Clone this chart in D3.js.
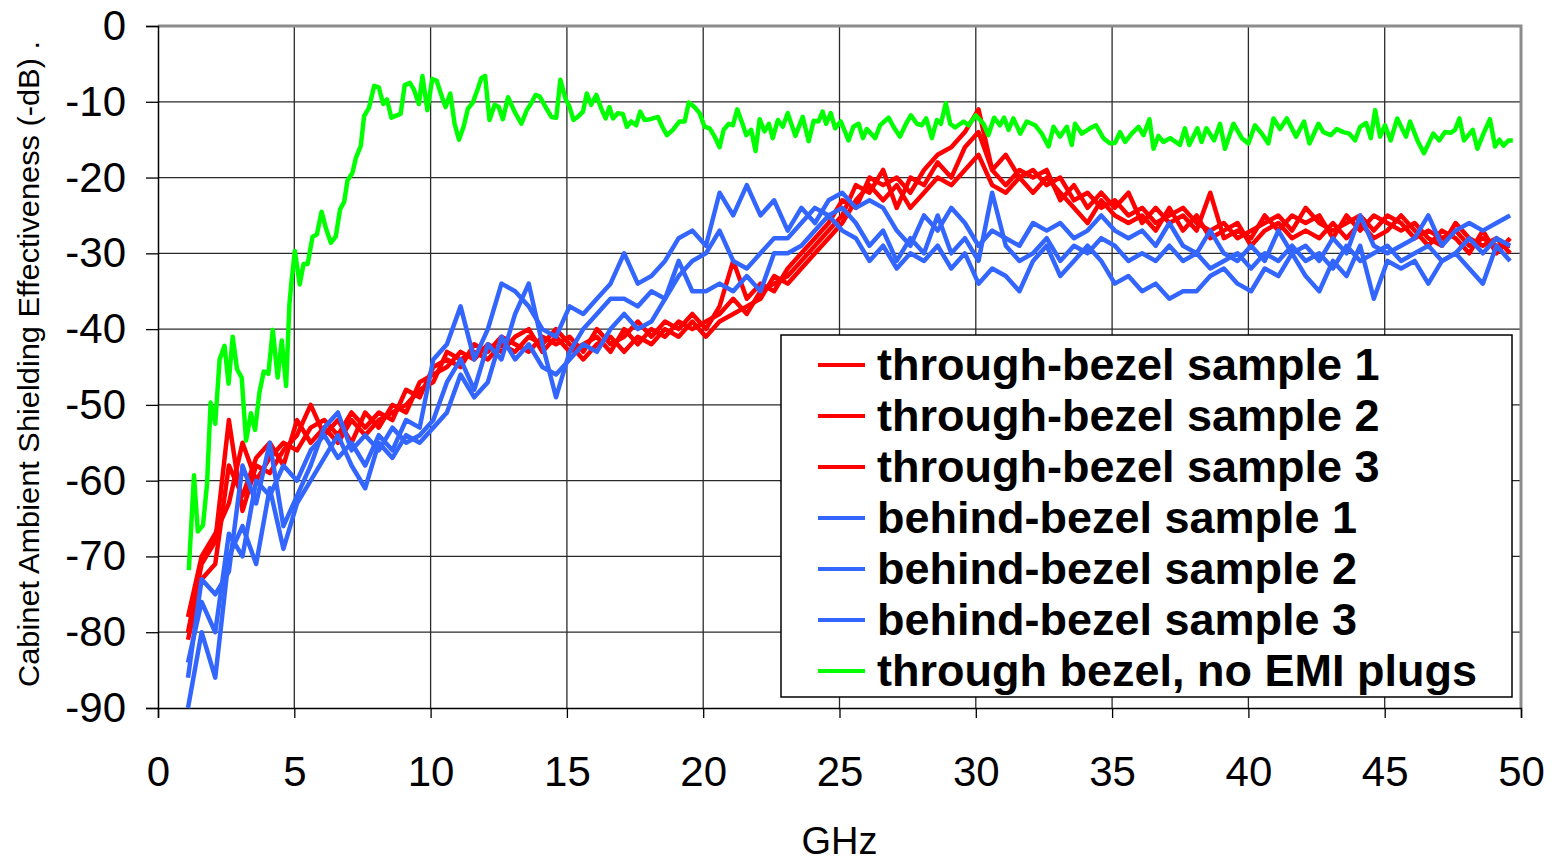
<!DOCTYPE html>
<html>
<head>
<meta charset="utf-8">
<script src="https://cdn.jsdelivr.net/npm/d3@7"></script>
<style>
  body { margin: 0; background: #fff; }
  text { font-family: "Liberation Sans", Arial, sans-serif; }
</style>
</head>
<body>
<div id="chart"></div>
<script>
// frequency grid (GHz) shared by the six sample traces
var ghz = [1.1,1.6,2.1,2.6,3.1,3.6,4.1,4.6,5.1,5.6,6.1,6.6,7.1,7.6,8.1,8.6,9.1,9.6,10.1,10.6,
  11.1,11.6,12.1,12.6,13.1,13.6,14.1,14.6,15.1,15.6,16.1,16.6,17.1,17.6,18.1,18.6,19.1,19.6,20.1,20.6,
  21.1,21.6,22.1,22.6,23.1,23.6,24.1,24.6,25.1,25.6,26.1,26.6,27.1,27.6,28.1,28.6,29.1,29.6,30.1,30.6,
  31.1,31.6,32.1,32.6,33.1,33.6,34.1,34.6,35.1,35.6,36.1,36.6,37.1,37.6,38.1,38.6,39.1,39.6,40.1,40.6,
  41.1,41.6,42.1,42.6,43.1,43.6,44.1,44.6,45.1,45.6,46.1,46.6,47.1,47.6,48.1,48.6,49.1,49.6];

var throughBezel1 = [-80,-71,-68,-52,-64,-58,-59,-56,-54,-50, -54,-52,-55,-51,-53,-50,-51,-47,-46,-45,
  -43,-44,-42,-43,-41,-40,-43,-41,-43,-42, -41,-43,-40,-42,-40,-41,-39,-40,-39,-38,
  -36,-38,-35,-34,-33,-31,-29,-27,-25,-21, -22,-19,-24,-20,-21,-18,-20,-16,-14,-19,
  -21,-19,-20,-19,-23,-21,-24,-22,-24,-22, -26,-24,-26,-25,-27,-22,-28,-27,-28,-25,
  -27,-25,-26,-25,-28,-25,-27,-25,-26,-27, -26,-28,-29,-26,-28,-29,-28,-30];
var throughBezel2 = [-78,-70,-67,-63,-55,-60,-57,-55,-56,-53, -52,-54,-51,-53,-51,-52,-48,-49,-45,-44,
  -45,-42,-43,-41,-42,-43,-41,-42,-41,-43, -40,-42,-41,-39,-41,-39,-40,-38,-40,-37,
  -31,-36,-34,-35,-32,-30,-28,-26,-23,-24, -20,-21,-20,-22,-19,-17,-16,-14,-11,-19,
  -17,-20,-19,-21,-20,-23,-22,-24,-23,-25, -24,-26,-25,-24,-26,-27,-26,-28,-27,-26,
  -25,-27,-24,-26,-27,-26,-25,-27,-25,-26, -28,-27,-28,-27,-29,-28,-29,-29];
var throughBezel3 = [-81,-73,-71,-58,-62,-57,-55,-58,-52,-55, -53,-55,-52,-54,-52,-51,-50,-48,-47,-43,
  -44,-43,-44,-42,-43,-41,-42,-40,-42,-44, -42,-41,-43,-41,-42,-40,-41,-39,-41,-39,
  -38,-37,-36,-33,-34,-32,-30,-28,-26,-23, -21,-23,-21,-24,-22,-20,-21,-19,-17,-21,
  -22,-20,-22,-20,-22,-24,-26,-23,-25,-26, -25,-27,-24,-27,-25,-28,-27,-26,-29,-27,
  -26,-28,-27,-28,-26,-28,-26,-28,-27,-25, -27,-29,-27,-28,-30,-27,-30,-28];
var behindBezel1 = [-84,-76,-80,-67,-70,-60,-62,-58,-60,-56, -54,-57,-55,-58,-54,-56,-52,-53,-44,-42,
  -37,-44,-40,-34,-35,-37,-40,-41,-37,-38, -36,-34,-30,-34,-33,-31,-28,-27,-29,-22,
  -25,-21,-25,-23,-27,-24,-26,-23,-22,-24, -23,-24,-27,-29,-25,-27,-24,-26,-29,-27,
  -28,-29,-26,-27,-26,-28,-27,-25,-27,-28, -27,-29,-26,-29,-30,-27,-30,-31,-29,-31,
  -27,-30,-29,-31,-28,-30,-25,-29,-30,-29, -28,-25,-29,-27,-26,-27,-26,-25];
var behindBezel2 = [-86,-73,-75,-72,-58,-63,-55,-66,-62,-58, -53,-51,-56,-54,-56,-53,-55,-54,-52,-47,
  -44,-48,-42,-44,-38,-34,-42,-49,-43,-40, -38,-36,-36,-37,-35,-36,-33,-31,-30,-27,
  -31,-32,-30,-28,-28,-26,-24,-25,-24,-26, -29,-27,-31,-28,-30,-25,-30,-28,-31,-22,
  -29,-31,-30,-28,-31,-29,-30,-28,-29,-31, -30,-31,-29,-31,-30,-32,-31,-30,-32,-30,
  -31,-29,-31,-30,-32,-29,-31,-30,-29,-31, -30,-29,-31,-30,-28,-30,-28,-29];
var behindBezel3 = [-90,-80,-86,-70,-66,-71,-61,-69,-63,-60, -57,-54,-58,-61,-55,-57,-54,-55,-53,-51,
  -46,-49,-47,-41,-44,-42,-45,-46,-44,-42, -43,-40,-38,-40,-39,-36,-31,-35,-35,-34,
  -35,-33,-35,-30,-30,-29,-27,-25,-27,-28, -31,-29,-32,-30,-31,-29,-32,-30,-34,-32,
  -33,-35,-31,-29,-33,-31,-29,-31,-34,-33, -35,-34,-36,-35,-35,-33,-32,-34,-35,-32,
  -33,-30,-33,-35,-31,-33,-29,-36,-31,-32, -31,-34,-31,-30,-32,-34,-29,-31];

// the no-plug trace was read at its own points
var noPlugGHz = [1.13,1.32,1.46,1.65,1.8,1.93,2.1,2.26,2.44,2.59,2.74,2.9,3.07,3.23,3.41,3.56,3.72,3.88,4.05,4.21,
  4.39,4.54,4.7,4.82,4.9,5.02,5.2,5.34,5.49,5.67,5.83,6.0,6.16,6.34,6.52,6.68,6.83,6.95,7.13,7.26,
  7.44,7.56,7.74,7.93,8.1,8.26,8.4,8.56,8.9,9.05,9.24,9.39,9.57,9.7,9.88,10.06,10.22,10.43,10.55,10.72,
  10.88,11.04,11.21,11.37,11.55,11.74,11.86,12.0,12.16,12.35,12.5,12.65,12.84,13.08,13.33,13.53,13.69,13.85,14.0,14.22,
  14.43,14.61,14.76,14.95,15.1,15.24,15.4,15.59,15.73,15.89,16.08,16.26,16.42,16.56,16.69,16.87,17.05,17.2,17.36,17.54,
  17.69,17.85,18.06,18.34,18.5,18.67,18.89,19.13,19.32,19.47,19.68,19.87,20.05,20.24,20.42,20.6,20.75,20.94,21.09,21.25,
  21.44,21.58,21.76,21.92,22.07,22.25,22.41,22.55,22.74,22.92,23.1,23.38,23.65,23.87,24.05,24.23,24.38,24.51,24.68,24.84,
  25.05,25.33,25.51,25.7,25.86,26.0,26.31,26.49,26.8,26.98,27.22,27.44,27.62,27.84,28.02,28.18,28.39,28.57,28.72,28.9,
  29.06,29.24,29.55,29.73,30.0,30.28,30.46,30.67,30.89,31.04,31.2,31.38,31.63,31.87,32.18,32.42,32.67,32.85,33.09,33.34,
  33.52,33.64,33.89,34.19,34.41,34.68,34.93,35.11,35.29,35.48,35.72,35.97,36.15,36.37,36.52,36.7,36.88,37.13,37.49,37.67,
  37.83,38.13,38.28,38.46,38.74,38.96,39.14,39.45,39.76,40.0,40.24,40.49,40.73,40.92,41.16,41.41,41.75,42.04,42.24,42.57,
  42.75,43.02,43.24,43.48,43.7,43.91,44.1,44.32,44.49,44.65,44.83,45.01,45.22,45.46,45.78,45.93,46.2,46.44,46.78,47.0,
  47.21,47.42,47.58,47.74,47.91,48.23,48.4,48.6,48.86,49.05,49.21,49.36,49.54,49.7];
var noPlugDB = [-71.8,-59.3,-66.7,-65.9,-60.4,-49.7,-52.5,-44,-42.2,-47.2,-41,-45.3,-46.4,-54.7,-51.1,-53.3,-48.4,-45.6,-45.9,-40.1,
  -46.4,-41.5,-47.5,-36.8,-33.6,-29.7,-34.1,-31.4,-31.4,-27.8,-27.5,-24.5,-26.7,-28.6,-27.8,-24.2,-23.2,-20.4,-19.4,-17.4,
  -15.8,-11.9,-10.8,-7.9,-8.1,-10.3,-9.7,-12.1,-11.6,-7.8,-7.5,-8.4,-10.3,-6.6,-11.1,-7.0,-7.2,-9.5,-10.7,-8.9,
  -12.9,-15.0,-13.3,-10.9,-10.1,-8.2,-6.9,-6.6,-12.4,-10.4,-10.7,-12.3,-9.4,-11.3,-12.9,-11.1,-10.2,-9.1,-9.3,-10.7,
  -12.0,-12.1,-7.1,-9.6,-10.7,-12.4,-12.0,-11.3,-8.9,-10.4,-9.1,-10.9,-12.2,-10.7,-12.2,-11.5,-11.6,-13.3,-12.6,-13.1,
  -11.3,-12.4,-12.3,-12.0,-13.3,-14.4,-13.7,-12.6,-12.6,-10.1,-10.7,-11.5,-13.3,-13.5,-14.6,-16.0,-13.7,-12.9,-13.1,-11.0,
  -12.9,-14.4,-13.7,-16.5,-12.3,-13.9,-12.9,-14.8,-12.4,-13.3,-11.5,-14.5,-12.0,-15.2,-12.5,-12.6,-11.3,-12.9,-11.5,-13.5,
  -12.6,-15.1,-13.3,-12.9,-14.8,-13.6,-14.8,-13.1,-12.1,-13.3,-14.6,-12.9,-11.8,-12.9,-13.1,-12.2,-14.8,-12.4,-12.9,-10.2,
  -12.9,-13.4,-12.6,-13.1,-11.8,-12.9,-14.4,-12.1,-13.1,-12.1,-13.7,-12.2,-14.2,-12.6,-13.1,-14.2,-15.9,-13.3,-14.6,-13.3,
  -15.7,-12.9,-14.2,-13.5,-13.1,-14.8,-15.5,-15.4,-14.0,-15.3,-14.2,-13.3,-14.4,-12.3,-16.2,-14.5,-15.3,-14.8,-15.7,-13.5,
  -15.7,-13.5,-15.3,-13.5,-15.1,-12.9,-16.2,-12.9,-14.8,-15.5,-13.1,-14.2,-15.5,-12.2,-13.6,-12.2,-14.6,-12.6,-15.5,-12.9,
  -14.0,-14.4,-13.6,-14.0,-14.2,-15.1,-13.3,-12.8,-14.8,-11.1,-14.6,-13.1,-15.1,-12.2,-14.6,-12.6,-15.1,-16.8,-14.2,-15.1,
  -14.0,-14.1,-13.7,-12.2,-15.1,-13.7,-16.2,-14.4,-12.3,-15.9,-15.0,-15.8,-15.1,-15.1];

var yTicks = [0, -10, -20, -30, -40, -50, -60, -70, -80, -90];
var xTicks = [0, 5, 10, 15, 20, 25, 30, 35, 40, 45, 50];

var series = [
  { name: "through-bezel sample 1", color: "#ff0000", x: ghz, y: throughBezel1 },
  { name: "through-bezel sample 2", color: "#ff0000", x: ghz, y: throughBezel2 },
  { name: "through-bezel sample 3", color: "#ff0000", x: ghz, y: throughBezel3 },
  { name: "behind-bezel sample 1", color: "#3366ff", x: ghz, y: behindBezel1 },
  { name: "behind-bezel sample 2", color: "#3366ff", x: ghz, y: behindBezel2 },
  { name: "behind-bezel sample 3", color: "#3366ff", x: ghz, y: behindBezel3 },
  { name: "through bezel, no EMI plugs", color: "#00ff00", x: noPlugGHz, y: noPlugDB }
];

var W = 1558, H = 864;
var plotL = 158, plotR = 1521, plotT = 26, plotB = 708;

var svg = d3.select("#chart").append("svg")
  .attr("width", W).attr("height", H);
svg.append("rect").attr("width", W).attr("height", H).attr("fill", "#fff");

var x = d3.scaleLinear().domain([0, 50]).range([plotL, plotR]);
var y = d3.scaleLinear().domain([-90, 0]).range([plotB, plotT]);

// grid
svg.append("g").selectAll("line").data(yTicks.filter(function (d) { return d > -90 && d < 0; }))
  .enter().append("line")
  .attr("x1", plotL).attr("x2", plotR)
  .attr("y1", function (d) { return y(d); }).attr("y2", function (d) { return y(d); })
  .attr("stroke", "#2a2a2a").attr("stroke-width", 1.3);
svg.append("g").selectAll("line").data(xTicks.filter(function (d) { return d > 0 && d < 50; }))
  .enter().append("line")
  .attr("x1", function (d) { return x(d); }).attr("x2", function (d) { return x(d); })
  .attr("y1", plotT).attr("y2", plotB)
  .attr("stroke", "#2a2a2a").attr("stroke-width", 1.3);

// top and right frame
svg.append("path")
  .attr("d", "M" + plotL + "," + plotT + "H" + plotR + "V" + plotB)
  .attr("fill", "none").attr("stroke", "#8c8c8c").attr("stroke-width", 3);

// axes
var yAxis = svg.append("g")
  .attr("transform", "translate(" + plotL + ",0)")
  .call(d3.axisLeft(y).tickValues(yTicks).tickSize(12).tickPadding(20).tickFormat(d3.format("d")));
var xAxis = svg.append("g")
  .attr("transform", "translate(0," + plotB + ")")
  .call(d3.axisBottom(x).tickValues(xTicks).tickSize(10).tickPadding(38).tickFormat(d3.format("d")));
[yAxis, xAxis].forEach(function (a) {
  a.select(".domain").attr("stroke", "#000").attr("stroke-width", 1.5);
  a.selectAll(".tick line").attr("stroke", "#000").attr("stroke-width", 1.3);
  a.selectAll(".tick text")
    .attr("fill", "#000")
    .style("font-size", "42px")
    .style("font-family", "'Liberation Sans', Arial, sans-serif");
});
yAxis.selectAll(".tick text").text(function (d) { return d === 0 ? "0" : "-" + Math.abs(d); });

// data lines
var line = d3.line()
  .x(function (d) { return x(d[0]); })
  .y(function (d) { return y(d[1]); });

svg.append("g").selectAll("path")
  .data(series)
  .enter()
  .append("path")
  .attr("d", function (s) { return line(s.x.map(function (v, i) { return [v, s.y[i]]; })); })
  .attr("fill", "none")
  .attr("stroke", function (s) { return s.color; })
  .attr("stroke-width", 4.5)
  .attr("stroke-linejoin", "round");

// axis titles
svg.append("text")
  .attr("x", x(25)).attr("y", 854)
  .attr("text-anchor", "middle")
  .style("font-size", "38px")
  .text("GHz");

svg.append("text")
  .attr("transform", "translate(39,364)rotate(-90)")
  .attr("text-anchor", "middle")
  .attr("textLength", 646)
  .attr("lengthAdjust", "spacingAndGlyphs")
  .style("font-size", "29px")
  .text("Cabinet Ambient Shielding Effectiveness (-dB) .");

// legend
var legend = svg.append("g");
legend.append("rect")
  .attr("x", 781).attr("y", 335).attr("width", 731).attr("height", 362)
  .attr("fill", "#fff").attr("stroke", "#000").attr("stroke-width", 1.5);

var rows = legend.selectAll("g.row").data(series).enter().append("g")
  .attr("class", "row")
  .attr("transform", function (d, i) { return "translate(0," + (365 + i * 51) + ")"; });
rows.append("line")
  .attr("x1", 818).attr("x2", 865)
  .attr("stroke", function (d) { return d.color; })
  .attr("stroke-width", 4);
rows.append("text")
  .attr("x", 877).attr("y", 15)
  .style("font-size", "45px")
  .style("font-weight", "bold")
  .text(function (d) { return d.name; });
</script>
</body>
</html>
